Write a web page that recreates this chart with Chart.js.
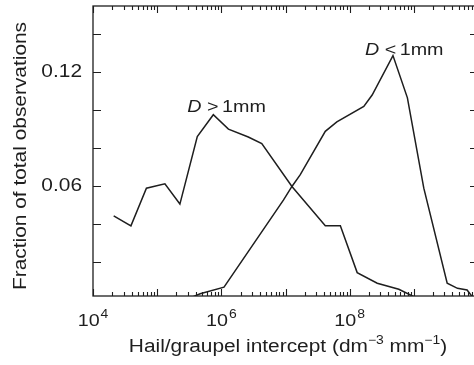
<!DOCTYPE html>
<html>
<head>
<meta charset="utf-8">
<script src="https://cdn.jsdelivr.net/npm/chart.js@4.4.1/dist/chart.umd.min.js"></script>
<style>
html, body { margin: 0; padding: 0; overflow: hidden; background: #fff; }
canvas { display: block; }
</style>
</head>
<body>
<canvas id="mycanvas" width="480" height="365"></canvas>
<script>
// D > 1mm curve
var bigX = [2.1e4, 3.9e4, 6.8e4, 1.32e5, 2.26e5, 4.22e5, 7.5e5, 1.29e6, 2.63e6, 4.27e6, 1.26e7, 4.17e7, 7.16e7, 1.31e8, 2.69e8, 5.83e8, 1.0e9];
var bigY = [0.0442, 0.0389, 0.0588, 0.0611, 0.0504, 0.0861, 0.0976, 0.0900, 0.0858, 0.0823, 0.0597, 0.0390, 0.0390, 0.0142, 0.0086, 0.0054, 0.0015];
// D < 1mm curve
var smallX = [3.47e5, 4.68e5, 1.10e6, 9.33e6, 1.26e7, 1.70e7, 4.17e7, 6.31e7, 1.66e8, 2.24e8, 4.73e8, 7.94e8, 1.43e9, 3.31e9, 4.79e9, 6.76e9, 8.13e9];
var smallY = [0.0012, 0.0030, 0.0065, 0.0526, 0.0597, 0.0659, 0.0888, 0.0938, 0.1020, 0.1080, 0.1288, 0.1065, 0.0588, 0.0086, 0.0059, 0.0050, 0.0015];

var yTicks = [0.02, 0.04, 0.06, 0.08, 0.10, 0.12, 0.14];
var yLabels = ['0.06', '0.12'];
var xLabelExps = ['4', '6', '8'];
var xMajors = [1e4, 1e5, 1e6, 1e7, 1e8, 1e9, 1e10];

var INK = '#1e1e1e';
var FONT = '"Liberation Sans", Arial, Helvetica, sans-serif';
var SX = 1.16; // reference lettering is a bit wider than Arial

function toPoints(xs, ys){
	var pts = [];
	for(var i in xs){
		pts.push({x: xs[i], y: ys[i]});
	}
	return pts;
}

// draw text stretched horizontally, returns width used
function wide(ctx, txt, x, y, size, style){
	ctx.font = (style || '') + ' ' + size + 'px ' + FONT;
	var w = ctx.measureText(txt).width * SX;
	ctx.save();
	ctx.translate(x, y);
	ctx.scale(SX, 1);
	ctx.fillText(txt, 0, 0);
	ctx.restore();
	return w;
}

var frame = {
	id: 'frame',
	afterDraw: function(chart){
		var ctx = chart.ctx;
		var a = chart.chartArea;
		var xs = chart.scales.x, ys = chart.scales.y;
		ctx.save();
		ctx.strokeStyle = INK;
		ctx.fillStyle = INK;
		ctx.lineWidth = 1.3;
		ctx.strokeRect(a.left, a.top, a.right - a.left, a.bottom - a.top);

		// y ticks, inward on both sides
		ctx.lineWidth = 1.1;
		ctx.beginPath();
		for(var i in yTicks){
			var py = Math.round(ys.getPixelForValue(yTicks[i])) + 0.5;
			ctx.moveTo(a.left, py); ctx.lineTo(a.left + 8, py);
			ctx.moveTo(a.right, py); ctx.lineTo(a.right - 8, py);
		}
		// log ticks on top and bottom
		for(var d = 0; d < xMajors.length - 1; d++){
			for(var m = 1; m < 10; m++){
				var v = xMajors[d] * m;
				var px = Math.round(xs.getPixelForValue(v)) + 0.5;
				var len = m == 1 ? 7 : 4;
				ctx.moveTo(px, a.bottom); ctx.lineTo(px, a.bottom - len);
				ctx.moveTo(px, a.top); ctx.lineTo(px, a.top + len);
			}
		}
		ctx.stroke();

		// y tick labels
		ctx.textBaseline = 'middle';
		for(var j in yLabels){
			var ty = ys.getPixelForValue(parseFloat(yLabels[j]));
			ctx.font = '18px ' + FONT;
			var tw = ctx.measureText(yLabels[j]).width * SX;
			wide(ctx, yLabels[j], a.left - 11 - tw, ty, 18);
		}

		// x tick labels 10^n
		ctx.textBaseline = 'alphabetic';
		for(var k in xLabelExps){
			var tx = xs.getPixelForValue(Math.pow(10, parseInt(xLabelExps[k])));
			ctx.font = '17px ' + FONT;
			var w1 = ctx.measureText('10').width * SX;
			ctx.font = '12px ' + FONT;
			var w2 = ctx.measureText(xLabelExps[k]).width * SX;
			var x0 = tx - (w1 + w2 + 1) / 2;
			wide(ctx, '10', x0, a.bottom + 30, 17);
			wide(ctx, xLabelExps[k], x0 + w1 + 1, a.bottom + 22, 12);
		}

		// x axis title with superscripts
		var parts = [['Hail/graupel intercept (dm', 18, 0], ['\u22123', 12, -8], [' mm', 18, 0], ['\u22121', 12, -8], [')', 18, 0]];
		var total = 0;
		for(var p in parts){
			ctx.font = parts[p][1] + 'px ' + FONT;
			total += ctx.measureText(parts[p][0]).width * SX;
		}
		var cx = 288 - total / 2;
		for(var q in parts){
			cx += wide(ctx, parts[q][0], cx, a.bottom + 56 + parts[q][2], parts[q][1]);
		}

		// y axis title
		ctx.save();
		ctx.translate(26, (a.top + a.bottom) / 2 + 5);
		ctx.rotate(-Math.PI / 2);
		ctx.font = '18px ' + FONT;
		var yt = 'Fraction of total observations';
		var ytw = ctx.measureText(yt).width * SX;
		wide(ctx, yt, -ytw / 2, 0, 18);
		ctx.restore();

		// curve labels, placed next to each curve's peak
		var peakBig = chart.getDatasetMeta(0).data[6];
		var peakSmall = chart.getDatasetMeta(1).data[10];
		var lx = peakBig.x - 26, ly = peakBig.y - 3;
		lx += wide(ctx, 'D', lx, ly, 17, 'italic');
		lx += wide(ctx, ' > ', lx, ly, 17);
		wide(ctx, '1mm', lx - 2, ly, 17);
		lx = peakSmall.x - 28; ly = peakSmall.y - 1;
		lx += wide(ctx, 'D', lx, ly, 17, 'italic');
		lx += wide(ctx, ' < ', lx, ly, 17);
		wide(ctx, '1mm', lx - 2, ly, 17);
		ctx.restore();
	}
};

var ctx = document.getElementById('mycanvas');
var chart = new Chart(ctx, {
	type: 'line',
	data: {
		datasets: [
			{
				label: 'D > 1mm',
				data: toPoints(bigX, bigY),
				borderColor: INK,
				borderWidth: 1.5,
				pointRadius: 0,
				tension: 0
			},
			{
				label: 'D < 1mm',
				data: toPoints(smallX, smallY),
				borderColor: INK,
				borderWidth: 1.5,
				pointRadius: 0,
				tension: 0
			}
		]
	},
	options: {
		responsive: false,
		animation: false,
		layout: { padding: { left: 93, top: 6, right: 2, bottom: 69 } },
		plugins: { legend: { display: false }, tooltip: { enabled: false } },
		scales: {
			x: { type: 'logarithmic', min: 1e4, max: 1e10, display: false },
			y: { type: 'linear', min: 0.00185, max: 0.155, display: false }
		}
	},
	plugins: [frame]
});
</script>
</body>
</html>
